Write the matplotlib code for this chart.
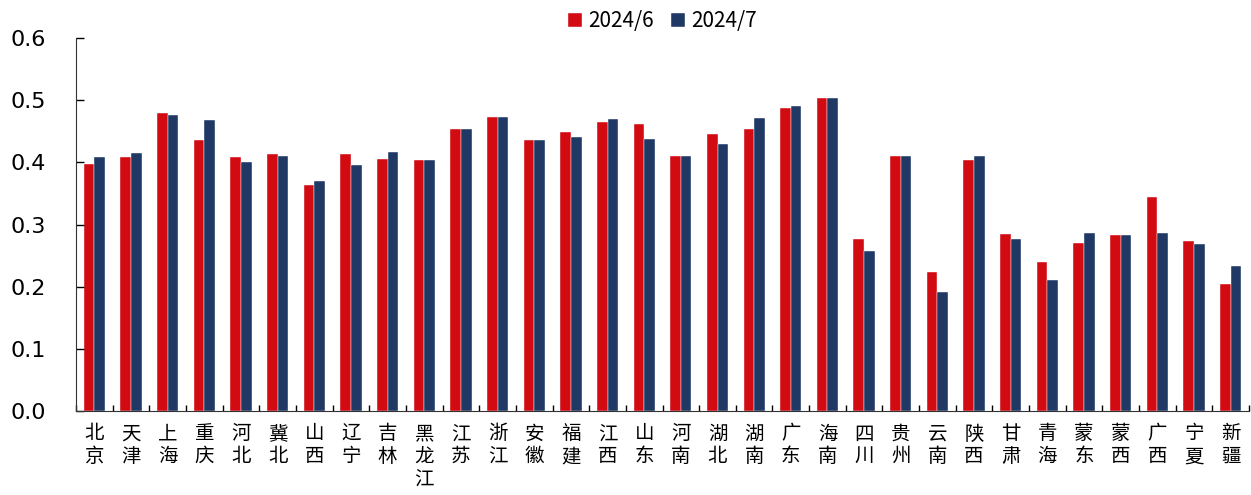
import numpy as np
import matplotlib
matplotlib.use('Agg')
import matplotlib.pyplot as plt

plt.rcParams['font.family'] = ['Noto Sans CJK SC', 'DejaVu Sans']

# provinces / regions
regions = ['北京', '天津', '上海', '重庆', '河北', '冀北', '山西', '辽宁', '吉林', '黑龙江',
           '江苏', '浙江', '安徽', '福建', '江西', '山东', '河南', '湖北', '湖南', '广东',
           '海南', '四川', '贵州', '云南', '陕西', '甘肃', '青海', '蒙东', '蒙西', '广西',
           '宁夏', '新疆']

jun_2024 = [0.398, 0.408, 0.479, 0.436, 0.408, 0.414, 0.364, 0.414, 0.406, 0.403,
            0.454, 0.473, 0.436, 0.449, 0.465, 0.462, 0.410, 0.446, 0.453, 0.488,
            0.504, 0.277, 0.411, 0.223, 0.404, 0.285, 0.240, 0.271, 0.283, 0.345,
            0.273, 0.204]
jul_2024 = [0.408, 0.415, 0.476, 0.468, 0.400, 0.411, 0.370, 0.396, 0.417, 0.403,
            0.454, 0.473, 0.436, 0.440, 0.469, 0.437, 0.410, 0.430, 0.472, 0.490,
            0.504, 0.257, 0.410, 0.192, 0.410, 0.277, 0.210, 0.287, 0.283, 0.287,
            0.268, 0.234]

series_names = ['2024/6', '2024/7']
colors = ['#D20A11', '#1F3864']
yticks = [0.0, 0.1, 0.2, 0.3, 0.4, 0.5, 0.6]

fig = plt.figure(figsize=(12.51, 4.95), dpi=100)
ax = fig.add_axes([0.0608, 0.1697, 0.9376, 0.7535])

x = np.arange(len(regions))
w = 0.29
ax.bar(x - w / 2, jun_2024, width=w, color=colors[0], label=series_names[0],
       edgecolor='white', linewidth=0.3)
ax.bar(x + w / 2, jul_2024, width=w, color=colors[1], label=series_names[1],
       edgecolor='white', linewidth=0.3)

ax.set_xlim(-0.5, len(regions) - 0.5)
ax.set_ylim(0, 0.6)
ax.set_yticks(yticks)
ax.set_yticklabels([f'{v:.1f}' for v in yticks], fontsize=16, family='DejaVu Sans')
ax.tick_params(axis='y', direction='in', length=6, width=1, pad=22)

# category separator ticks on the x axis
ax.set_xticks(np.arange(len(regions) + 1) - 0.5, minor=True)
ax.set_xticks(x)
ax.set_xticklabels(['\n'.join(r) for r in regions], fontsize=14, linespacing=1.1)
ax.tick_params(axis='x', which='major', length=0, pad=9)
ax.tick_params(axis='x', which='minor', direction='in', length=4, width=1)

for s in ['top', 'right']:
    ax.spines[s].set_visible(False)
ax.spines['left'].set_color('#333333')
ax.spines['bottom'].set_color('#333333')

ax.legend(loc='upper center', bbox_to_anchor=(0.5, 1.125), ncol=2, frameon=False,
          fontsize=15, handlelength=0.7, handleheight=0.7, handletextpad=0.3,
          columnspacing=0.8)

fig.savefig('out.png', dpi=100)
